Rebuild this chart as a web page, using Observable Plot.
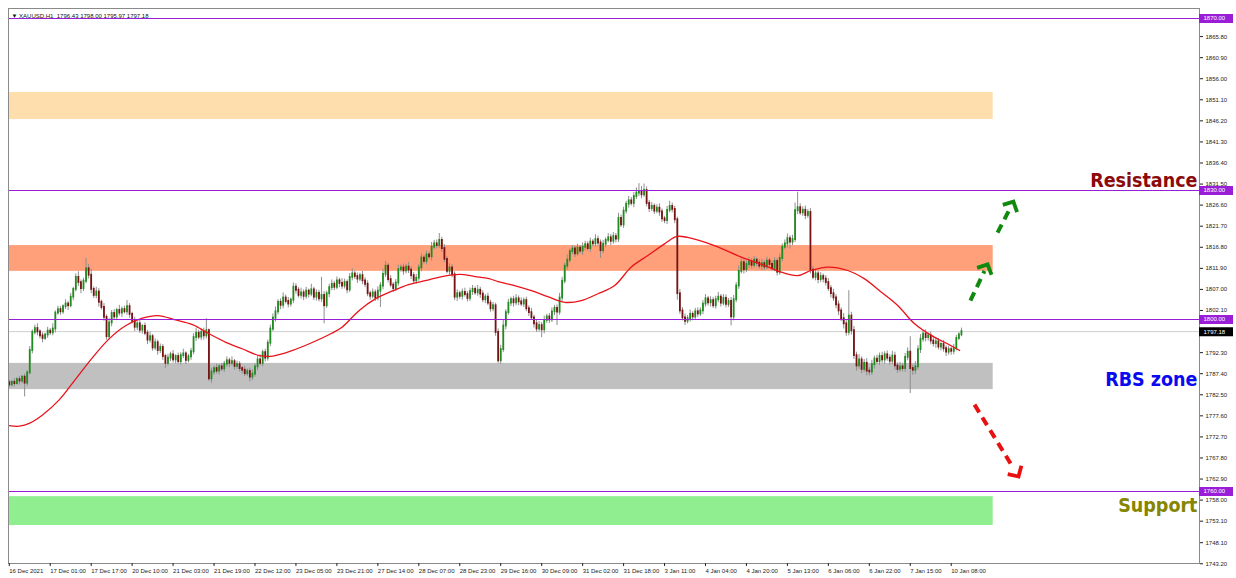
<!DOCTYPE html>
<html><head><meta charset="utf-8">
<script src="https://cdn.jsdelivr.net/npm/d3@7"></script>
<script src="https://cdn.jsdelivr.net/npm/@observablehq/plot@0.6"></script>
<style>html,body{margin:0;padding:0;background:#fff;}#chart{width:1236px;height:578px;}</style>
</head><body><div id="chart"></div>
<script>
// ---- data (XAUUSD H1, bar index 0 = 16 Dec 2021 09:00) ----
const firstOpen = 1785.3;
const closes = [
1784.8,1785.4,1785.1,1786.0,1785.7,1786.6,1785.2,1787.6,1792.8,1797.0,
1797.9,1797.1,1796.2,1795.6,1796.4,1797.3,1796.9,1797.8,1801.5,1802.3,
1801.8,1803.0,1803.6,1803.2,1805.2,1807.0,1809.8,1808.6,1807.2,1808.9,
1811.8,1810.3,1807.0,1805.6,1806.4,1804.0,1802.8,1800.5,1796.0,1799.2,
1801.4,1800.6,1802.1,1801.5,1802.3,1801.8,1803.0,1801.2,1799.6,1798.2,
1799.0,1797.5,1798.4,1796.8,1795.2,1796.0,1793.4,1794.6,1792.8,1793.5,
1791.4,1789.8,1791.0,1791.8,1790.6,1791.4,1790.2,1791.6,1792.0,1790.5,
1791.3,1792.5,1795.8,1796.8,1795.9,1797.0,1796.2,1797.4,1786.2,1787.8,
1788.6,1788.0,1789.0,1788.5,1789.6,1790.4,1789.8,1790.2,1789.1,1789.5,
1788.6,1788.2,1787.4,1787.9,1786.6,1787.3,1789.0,1790.6,1789.8,1792.3,
1791.0,1794.5,1797.8,1800.3,1801.8,1804.0,1803.3,1805.0,1804.2,1803.6,
1804.5,1807.5,1806.8,1805.6,1806.2,1805.4,1806.6,1805.9,1806.9,1805.2,
1806.1,1804.8,1805.6,1803.2,1806.0,1807.4,1808.2,1807.5,1809.0,1808.4,
1807.8,1808.6,1806.9,1809.8,1810.6,1810.0,1809.4,1810.2,1809.0,1808.2,
1806.0,1805.4,1806.2,1805.0,1806.6,1807.8,1810.5,1812.4,1809.3,1808.0,
1807.2,1808.5,1811.6,1812.0,1811.3,1812.2,1811.5,1810.2,1809.0,1809.6,
1812.0,1814.3,1813.5,1815.0,1814.6,1816.8,1817.6,1817.2,1818.4,1816.5,
1814.0,1811.2,1812.0,1810.4,1805.2,1806.0,1805.4,1806.3,1805.8,1804.9,
1806.5,1807.0,1806.2,1806.8,1805.9,1804.6,1805.2,1803.8,1802.5,1803.2,
1797.0,1790.4,1793.0,1798.5,1801.6,1803.8,1804.6,1803.9,1804.8,1804.1,
1803.6,1804.4,1802.5,1801.6,1800.4,1799.0,1797.8,1798.6,1797.6,1799.8,
1800.6,1799.9,1801.8,1802.6,1801.7,1805.0,1808.9,1812.4,1813.8,1815.8,
1816.4,1815.3,1816.6,1815.9,1816.8,1817.4,1816.5,1818.0,1817.6,1818.6,
1817.8,1816.0,1817.5,1818.4,1819.0,1818.2,1819.3,1818.7,1823.5,1822.0,
1825.2,1826.8,1827.6,1827.0,1828.6,1829.4,1829.8,1829.0,1830.0,1827.0,
1825.8,1826.3,1825.2,1825.9,1825.0,1823.4,1823.0,1825.4,1826.3,1825.6,
1823.2,1806.0,1802.0,1800.4,1799.6,1800.2,1801.2,1800.6,1801.8,1801.3,
1802.0,1803.6,1804.8,1803.9,1804.4,1803.2,1804.6,1805.2,1803.8,1804.9,
1803.5,1804.2,1800.6,1804.6,1807.8,1811.2,1813.2,1811.6,1812.8,1813.4,
1812.6,1813.8,1813.1,1812.4,1813.0,1812.2,1813.6,1812.8,1811.9,1813.5,
1811.0,1814.2,1816.8,1817.6,1818.8,1818.0,1818.6,1825.3,1826.0,1824.8,
1825.4,1824.2,1824.9,1811.5,1809.8,1810.6,1809.3,1810.0,1809.4,1808.6,
1807.2,1806.0,1805.0,1803.4,1802.0,1800.2,1799.0,1797.0,1800.8,1797.4,
1791.6,1789.2,1790.6,1788.4,1789.8,1788.0,1787.8,1789.5,1790.8,1790.2,
1791.4,1790.6,1791.8,1791.0,1790.3,1791.5,1789.2,1788.4,1789.0,1788.6,
1791.2,1792.4,1788.6,1788.2,1789.0,1793.0,1795.4,1796.6,1795.8,1796.2,
1795.0,1794.4,1794.8,1793.6,1794.2,1793.2,1792.4,1793.0,1792.6,1793.3,
1795.6,1796.43,1797.18];
// upper wick above the body, per bar
const upWicks = [
0.6,0.4,0.9,0.5,0.8,0.3,0.7,0.5,0.9,0.6,
0.8,1.1,0.5,0.7,0.4,0.9,0.6,1.2,0.5,0.8,
0.7,0.4,1.0,0.6,0.9,0.5,0.8,1.3,0.6,0.7,
2.4,1.0,1.4,0.6,1.1,0.8,0.5,0.9,0.6,1.0,
0.7,0.9,0.5,1.2,0.6,0.8,1.4,0.7,0.5,0.9,
0.6,1.0,0.4,0.8,0.7,1.1,0.5,0.9,0.6,0.8,
0.7,0.5,0.9,0.6,1.0,0.4,0.8,0.7,1.1,0.5,
0.6,0.8,0.9,1.2,0.7,0.8,1.0,2.8,0.4,0.9,
0.6,1.0,0.5,0.8,0.7,0.9,0.6,1.1,0.5,0.8,
0.7,0.5,0.9,0.6,0.8,1.0,0.7,0.9,1.2,0.6,
0.8,0.7,0.9,1.0,1.1,0.6,0.8,1.2,0.7,0.9,
0.5,1.0,0.8,0.6,1.1,0.7,0.9,0.5,1.3,0.6,
0.8,0.7,4.2,0.9,0.6,0.8,1.0,0.7,0.9,0.6,
1.1,0.8,0.6,0.9,1.2,0.7,0.8,0.6,1.0,0.7,
0.8,0.6,0.9,0.7,1.0,0.8,1.2,1.1,0.7,0.9,
0.6,0.8,1.0,0.7,0.9,0.6,1.1,0.8,0.7,0.9,
0.8,1.0,0.6,0.9,0.7,1.1,0.8,0.9,1.6,0.7,
0.9,0.6,1.0,0.8,0.7,0.9,0.6,0.8,1.0,0.7,
0.8,0.9,0.6,1.1,0.7,0.8,0.6,0.9,0.7,0.8,
0.6,0.8,1.0,1.4,0.7,0.9,0.6,0.8,1.0,0.7,
0.9,0.6,0.8,0.7,1.0,0.6,0.8,0.9,0.7,1.0,
0.6,0.8,0.9,0.7,0.8,1.1,0.9,0.7,1.2,0.6,
0.8,0.7,0.9,0.6,1.0,0.8,0.7,0.9,0.6,1.1,
0.8,0.7,0.9,0.6,1.0,0.8,0.9,0.7,1.2,0.8,
0.9,0.7,1.0,0.8,0.9,1.2,1.8,1.1,1.5,0.8,
0.7,0.9,0.6,0.8,1.0,0.7,0.6,0.9,1.2,0.8,
0.7,0.6,1.0,0.8,0.9,0.7,1.0,0.6,0.8,0.9,
0.7,0.8,1.0,0.6,0.9,0.7,0.8,1.1,0.6,0.9,
0.8,0.7,0.9,1.0,0.8,1.2,0.9,0.7,0.8,1.0,
0.7,0.9,0.6,0.8,1.0,0.7,0.9,0.6,0.8,0.9,
0.7,1.0,0.8,0.9,1.1,0.7,1.0,1.8,3.6,0.9,
0.8,1.0,0.7,0.9,0.8,1.1,0.7,0.9,0.6,0.8,
0.9,0.7,1.0,0.8,0.9,0.7,1.2,0.8,5.9,0.9,
1.0,0.8,1.2,0.7,0.9,1.1,0.8,1.0,0.7,0.9,
0.8,1.0,0.7,0.9,0.8,1.1,0.9,0.7,1.0,0.8,
0.9,1.0,3.6,0.8,1.2,0.9,1.1,0.8,1.0,0.7,
0.9,0.7,1.0,0.8,0.6,0.9,0.7,0.8,0.6,0.9,
0.7,0.5,0.82];
// lower wick below the body, per bar
const downWicks = [
0.7,0.5,0.8,0.4,0.9,0.6,3.2,0.7,0.5,0.8,
0.6,0.9,0.7,1.0,0.5,0.8,0.6,0.7,0.9,0.5,
0.8,0.6,0.7,1.1,0.5,0.8,0.6,0.9,1.2,0.7,
0.6,0.9,1.0,0.7,0.8,1.1,0.6,0.9,0.8,0.7,
0.9,0.6,0.8,0.7,1.0,0.5,0.8,0.9,0.6,1.0,
0.8,0.7,0.9,0.6,1.0,0.7,0.8,0.6,1.1,0.7,
0.9,1.2,0.6,0.8,0.7,0.9,0.6,0.8,0.7,1.0,
0.6,0.8,0.7,0.9,0.6,0.8,1.0,0.7,0.6,1.1,
0.8,0.7,0.9,0.6,0.8,0.7,1.0,0.6,0.9,0.7,
0.8,0.9,0.7,0.6,1.1,0.8,0.7,0.9,0.6,0.8,
0.9,0.7,0.8,0.6,0.9,0.7,1.0,0.8,0.6,0.9,
0.7,0.8,0.9,0.6,0.8,1.0,0.7,0.9,0.6,0.8,
0.9,0.7,0.8,4.2,0.6,0.9,0.7,0.8,0.6,1.0,
0.8,0.7,0.9,0.6,0.8,0.7,1.0,0.6,0.9,0.8,
0.7,0.9,0.6,0.8,0.7,3.8,0.9,0.7,0.8,0.6,
0.9,0.7,0.8,0.6,1.0,0.7,0.8,0.9,0.6,0.8,
0.7,0.9,0.6,0.8,0.7,1.0,0.6,0.8,0.7,0.9,
0.8,0.6,0.9,0.7,0.8,1.0,0.7,0.9,0.6,0.8,
0.7,0.9,0.6,0.8,1.0,0.7,0.9,0.6,0.8,0.7,
0.9,0.6,0.8,0.7,0.9,0.6,0.8,1.0,0.7,0.9,
0.6,0.8,0.7,0.9,0.6,1.0,0.8,0.7,1.8,0.9,
0.7,0.8,0.6,0.9,3.1,0.7,0.8,0.6,0.9,0.7,
0.8,0.9,0.6,0.7,1.0,0.8,0.6,0.9,0.7,0.8,
0.9,1.8,0.7,0.8,0.6,1.0,0.7,0.9,0.8,0.6,
0.8,0.7,0.9,0.6,1.0,0.7,0.8,0.9,0.6,0.8,
0.9,0.7,0.8,0.6,1.0,0.8,0.7,0.9,0.6,0.8,
0.9,1.5,0.8,0.7,1.0,0.6,0.8,0.9,0.7,0.8,
0.6,0.9,0.7,0.8,1.0,0.6,0.8,0.7,0.9,0.6,
0.8,0.7,2.1,0.9,0.7,0.8,0.6,1.0,0.7,0.9,
0.8,0.6,0.9,0.7,1.0,0.8,0.6,0.9,0.7,0.8,
0.9,0.7,0.8,0.6,1.0,1.6,0.8,0.7,0.9,0.6,
0.8,1.0,0.7,0.9,0.6,0.8,1.0,0.7,0.9,0.8,
0.7,1.0,0.8,0.9,1.1,0.7,1.2,0.9,0.8,1.0,
0.9,1.2,0.8,1.0,0.7,1.1,0.9,0.8,1.0,0.7,
0.9,0.8,1.0,0.7,0.9,0.8,1.0,0.9,0.7,0.8,
0.9,0.8,5.8,1.2,1.0,0.8,0.9,0.7,1.0,0.8,
0.9,0.8,1.1,0.7,0.9,0.8,1.0,0.7,0.9,0.8,
0.6,0.46,0.46];
// moving average (red line), sampled along the bars
const maBars = [0,4,8,13,19.5,26,32.6,39,45.6,52,58,65,71.6,78,84.6,91,97.7,103,110.7,117,126,130,136.7,143,150,156,163,169,176,182,187.5,191,197.4,204,210.4,217,223.5,230,236.5,243,249.5,256,260.6,265,275.5,286,295,301.6,308,313.3,319.8,327.6,334,340.6,347,353.7,360.2,366.7,371.3];
const maValues = [1775.3,1775.2,1775.9,1777.8,1781.3,1786.2,1791.2,1795.5,1798.6,1800.3,1800.9,1799.9,1798.8,1796.7,1794.7,1793.2,1791.6,1791.5,1792.8,1794.3,1796.8,1798.2,1802.1,1804.8,1806.7,1808.1,1809.1,1810.0,1810.5,1810.0,1809.5,1808.8,1807.9,1806.7,1805.3,1804.0,1804.4,1806.0,1807.9,1812.2,1814.9,1817.6,1819.3,1819.1,1817.2,1814.5,1812.6,1811.0,1810.2,1811.4,1812.2,1811.4,1809.5,1806.4,1803.3,1799.0,1796.3,1794.3,1792.8];
// time axis tick labels (every 16 bars)
const xTickBars = [0,16,32,48,64,80,96,112,128,144,160,176,192,208,224,240,256,272,288,304,320,336,352,368];
const xTickLabels = ["16 Dec 2021","17 Dec 01:00","17 Dec 17:00","20 Dec 10:00","21 Dec 03:00","21 Dec 19:00","22 Dec 12:00","23 Dec 05:00","23 Dec 21:00","27 Dec 14:00","28 Dec 07:00","28 Dec 23:00","29 Dec 16:00","30 Dec 09:00","31 Dec 02:00","31 Dec 18:00","3 Jan 11:00","4 Jan 04:00","4 Jan 20:00","5 Jan 13:00","6 Jan 06:00","6 Jan 22:00","7 Jan 15:00","10 Jan 08:00"];
const yTickLabels = ["1865.80","1860.90","1856.00","1851.10","1846.20","1841.30","1836.40","1831.50","1826.60","1821.70","1816.80","1811.90","1807.00","1802.10","1792.30","1787.40","1782.50","1777.60","1772.70","1767.80","1762.90","1758.00","1753.10","1748.10","1743.20"];
// horizontal levels and price boxes
const levelLines = [1870, 1830, 1800, 1760];
const levelLabels = ["1870.00","1830.00","1800.00","1760.00"];
const currentPrice = 1797.18;
const currentLabel = "1797.18";
// zones (rectangles)
const zoneLow = [1846.5, 1811.2, 1783.7, 1752.1];
const zoneHigh = [1852.8, 1817.2, 1789.8, 1758.8];
const zoneColors = ["#FFDEAD", "#FFA07A", "#C0C0C0", "#90EE90"];
const zoneStartBar = -0.3, zoneEndBar = 384.4;
// annotation texts
const noteTexts = ["Resistance", "RBS zone", "Support"];
const notePrices = [1832.3, 1786.0, 1756.7];
const noteColors = ["#8B0A0A", "#0A0AEE", "#858500"];
// arrows (bar, price)
const arrowStartBar = [375.5, 386.1, 377.1];
const arrowStartPrice = [1804.4, 1820.2, 1780.2];
const arrowEndBar = [382.2, 392.3, 394.3];
const arrowEndPrice = [1812.8, 1827.4, 1763.5];
const arrowColors = ["#0F8A0F", "#0F8A0F", "#E81010"];
const headerText = "▼ XAUUSD,H1  1796.43 1798.00 1795.97 1797.18";

// ---- build tables ----
const W = 1236, H = 578, mT = 8, mR = 37, mB = 15, mL = 8;
const xDomain = [-0.3, 465], yDomain = [1743.26, 1872.33];
const pxPerBar = (W - mL - mR) / (xDomain[1] - xDomain[0]);
const pxPerUnit = (H - mT - mB) / (yDomain[1] - yDomain[0]);

const candles = closes.map((c, i) => {
  const o = i ? closes[i - 1] : firstOpen;
  return {i, o, c, h: Math.max(o, c) + (upWicks[i] ?? 0), l: Math.min(o, c) - (downWicks[i] ?? 0), up: c >= o};
});
const ma = maBars.map((b, i) => ({b, v: maValues[i]}));
const zones = zoneLow.map((lo, i) => ({lo, hi: zoneHigh[i], color: zoneColors[i]}));
const notes = noteTexts.map((t, i) => ({t, p: notePrices[i], color: noteColors[i]}));
const arrows = arrowStartBar.map((b1, i) => {
  const p1 = arrowStartPrice[i], b2 = arrowEndBar[i], p2 = arrowEndPrice[i];
  const dx = (b2 - b1) * pxPerBar, dy = -(p2 - p1) * pxPerUnit;
  return {b1, p1, b2, p2, bs: b1 + 0.82 * (b2 - b1), ps: p1 + 0.82 * (p2 - p1),
    color: arrowColors[i], angle: Math.atan2(dx, -dy) * 180 / Math.PI};
});
const boxes = levelLines.map((v, i) => ({v, label: levelLabels[i], color: "#9A1ED8"}))
  .concat([{v: currentPrice, label: currentLabel, color: "#000"}]);
const yTickValues = yTickLabels.map(Number);
const yLabelMap = new Map(yTickValues.map((v, i) => [v, yTickLabels[i]]));
const xLabelMap = new Map(xTickBars.map((b, i) => [b, xTickLabels[i]]));
const boxBars = 34 / pxPerBar;

const chevron = {draw(ctx, size) {
  const r = Math.sqrt(size / Math.PI);
  ctx.moveTo(-r, r * 0.95); ctx.lineTo(0, 0); ctx.lineTo(r, r * 0.95);
}};

const chart = Plot.plot({
  width: W, height: H, marginTop: mT, marginRight: mR, marginBottom: mB, marginLeft: mL,
  x: {domain: xDomain}, y: {domain: yDomain},
  style: {fontFamily: "'Liberation Sans', Arial, sans-serif", fontSize: "6px", background: "#fff", color: "#222"},
  marks: [
    Plot.rect(zones, {x1: zoneStartBar, x2: zoneEndBar, y1: "lo", y2: "hi", fill: "color"}),
    Plot.ruleY([currentPrice], {stroke: "#CFCFCF", strokeWidth: 1}),
    Plot.ruleX(candles, {x: "i", y1: "l", y2: "h", stroke: "#8E8E8E", strokeWidth: 1}),
    Plot.ruleX(candles, {x: "i", y1: "o", y2: "c", stroke: d => d.up ? "#1F8C1F" : "#761212", strokeWidth: 1.8, strokeLinecap: "square"}),
    Plot.line(ma, {x: "b", y: "v", stroke: "#E8141B", strokeWidth: 1.3, curve: "catmull-rom"}),
    Plot.ruleY(levelLines, {stroke: "#9A1ED8", strokeWidth: 1.2}),
    Plot.link(arrows, {x1: "b1", y1: "p1", x2: "bs", y2: "ps", stroke: "color", strokeWidth: 4, strokeDasharray: "9,6"}),
    Plot.dot(arrows, {x: "b2", y: "p2", symbol: chevron, r: 8, stroke: "color", strokeWidth: 3.8, fill: "none", rotate: "angle", strokeLinejoin: "miter"}),
    Plot.text(notes, {y: "p", text: "t", frameAnchor: "right", textAnchor: "end", dx: -2, fill: "color",
      fontSize: 19.5, fontWeight: "bold", fontFamily: "'DejaVu Sans Condensed','Liberation Sans Narrow',sans-serif"}),
    Plot.frame({stroke: "#8A8A8A"}),
    Plot.axisX({anchor: "bottom", ticks: xTickBars, tickFormat: b => xLabelMap.get(b), tickSize: 3, tickPadding: 2,
      textAnchor: "start", dx: 0, label: null, fontSize: 6, color: "#222"}),
    Plot.axisY({anchor: "right", ticks: yTickValues, tickFormat: v => yLabelMap.get(v), tickSize: 3, tickPadding: 3,
      label: null, fontSize: 6, color: "#222"}),
    Plot.ruleY(boxes, {y: "v", x1: xDomain[1], x2: xDomain[1] + boxBars, stroke: "color", strokeWidth: 9}),
    Plot.text(boxes, {y: "v", text: "label", frameAnchor: "right", textAnchor: "start", dx: 4, fill: "#fff", fontSize: 6}),
    Plot.text([headerText], {text: d => d, frameAnchor: "top-left", textAnchor: "start", dx: 3, dy: 5, fontSize: 6, fill: "#111"})
  ]
});
document.getElementById("chart").appendChild(chart);
</script>
</body></html>
